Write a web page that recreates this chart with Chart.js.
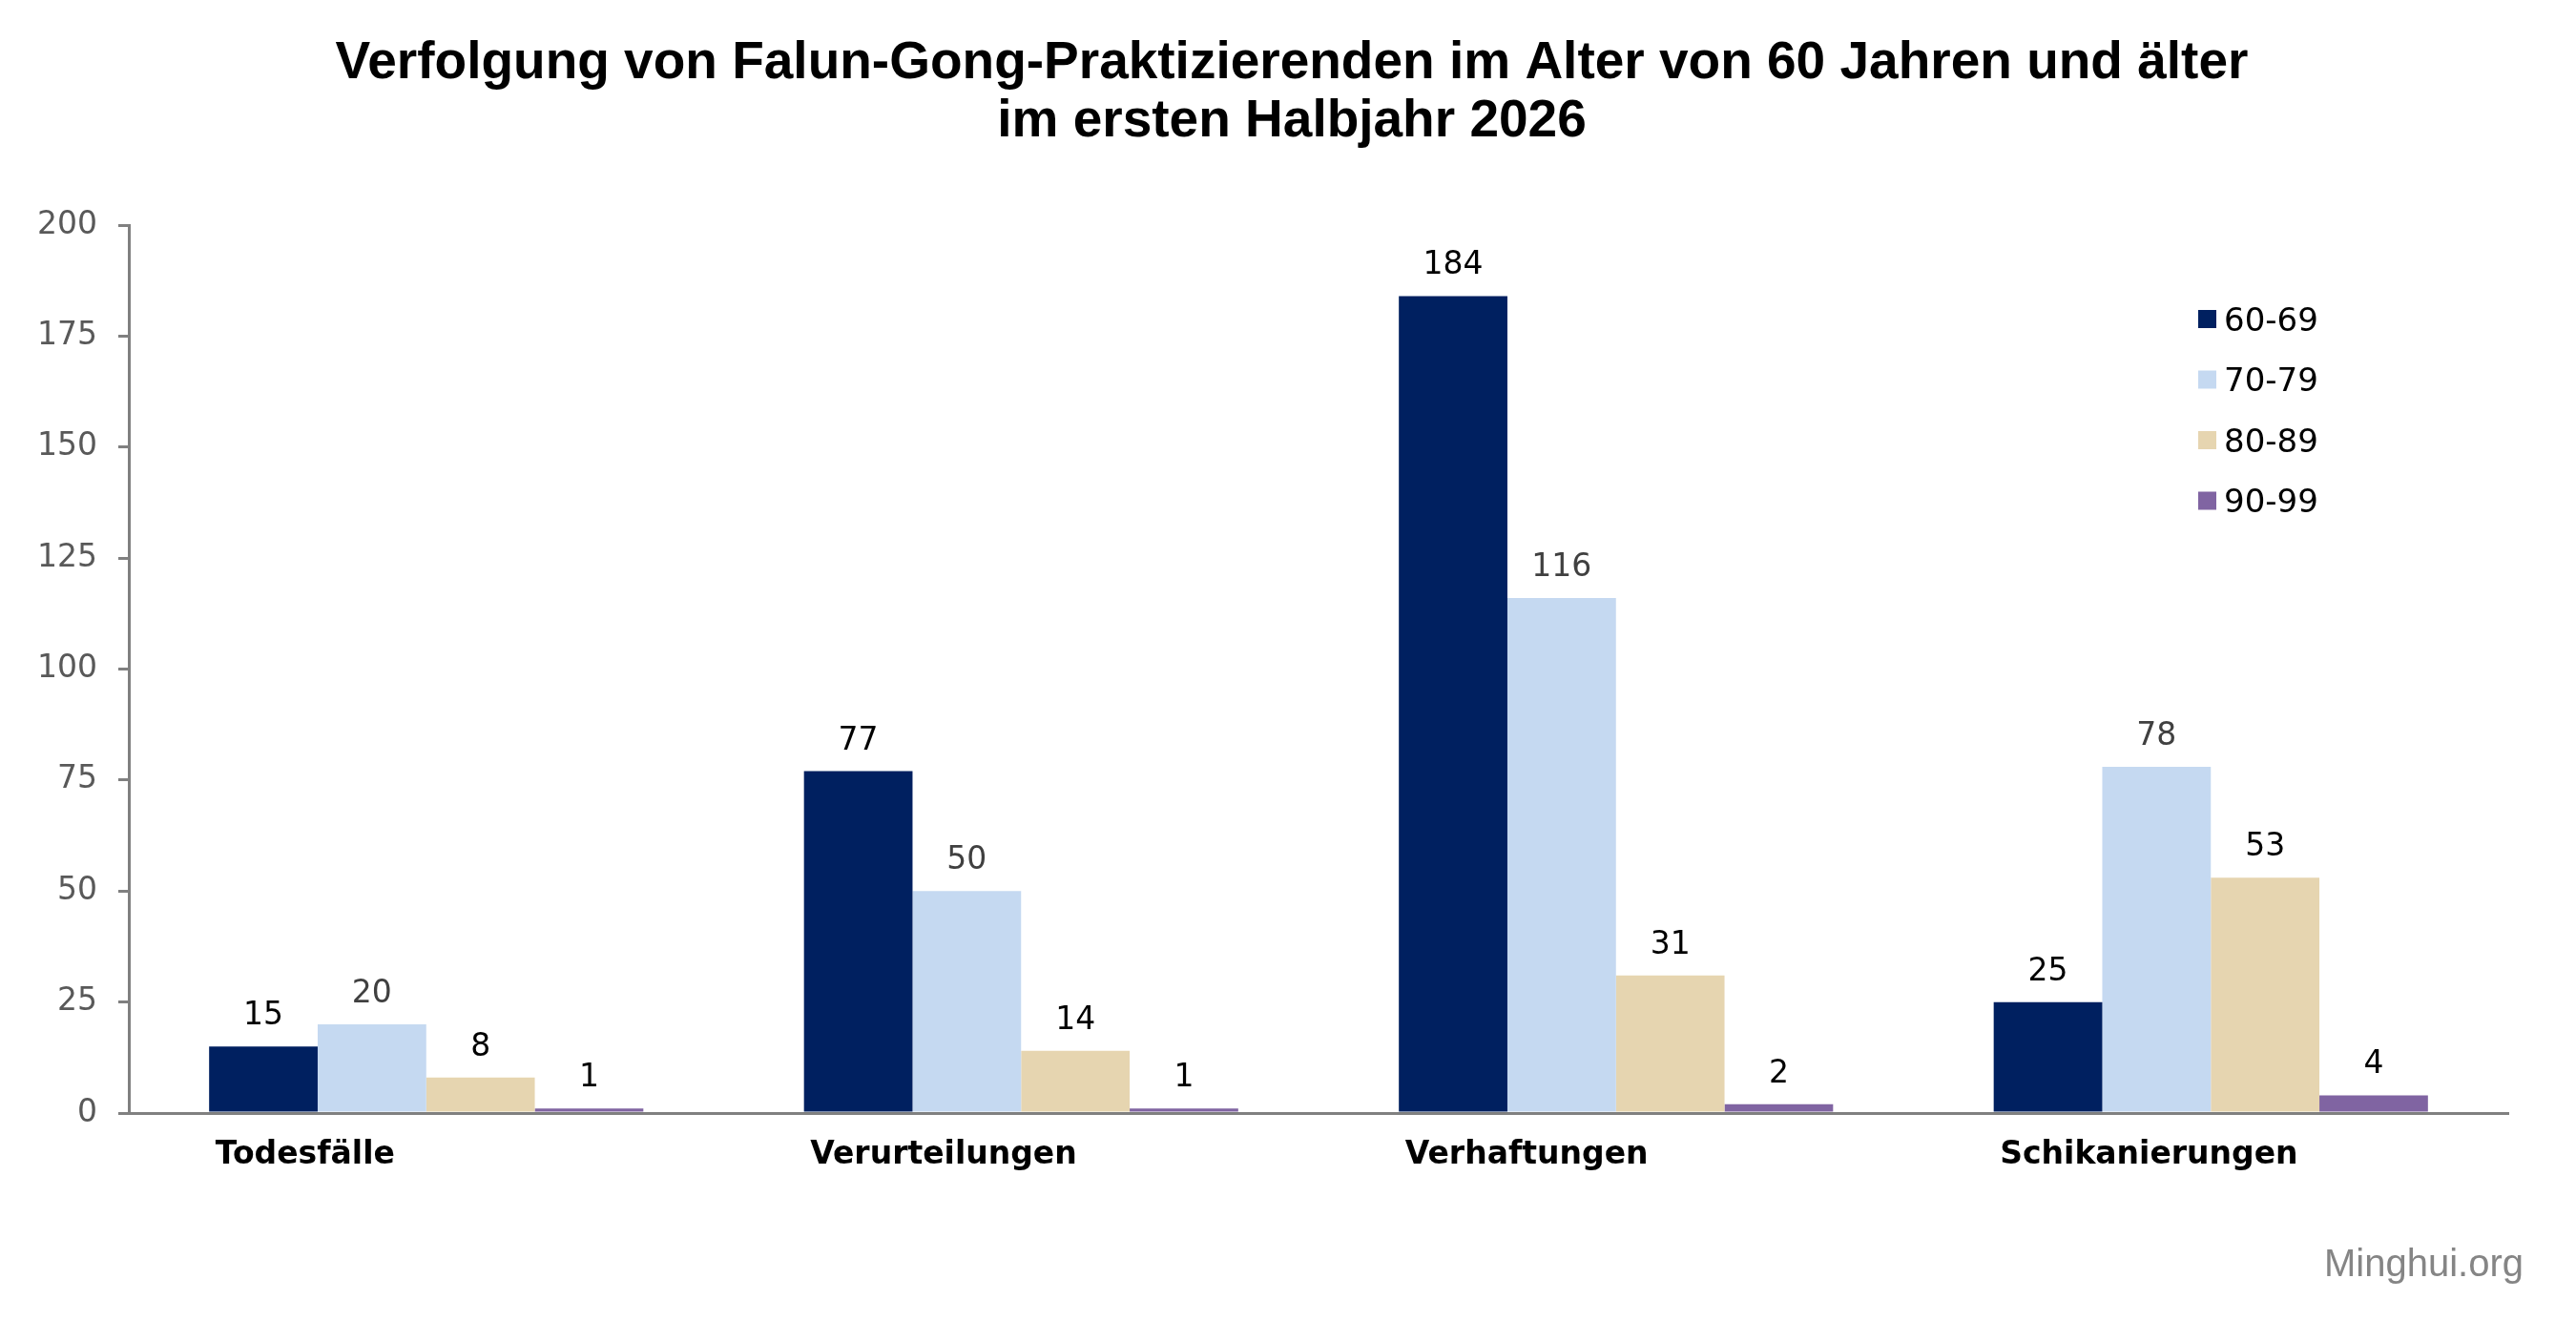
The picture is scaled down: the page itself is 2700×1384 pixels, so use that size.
<!DOCTYPE html>
<html lang="de">
<head>
<meta charset="utf-8">
<title>Verfolgung von Falun-Gong-Praktizierenden im Alter von 60 Jahren und älter</title>
<script src="https://cdn.jsdelivr.net/npm/chart.js@4.4.1/dist/chart.umd.min.js"></script>
<style>
  html, body { margin: 0; padding: 0; background: #fff; }
  #wrap { width: 2700px; height: 1384px; }
</style>
</head>
<body>
<div id="wrap"><canvas id="chart" width="2700" height="1384"></canvas></div>
<script>
// chart data
const categories = ['Todesfälle', 'Verurteilungen', 'Verhaftungen', 'Schikanierungen'];
const ageGroups = ['60-69', '70-79', '80-89', '90-99'];
const age60to69 = [15, 77, 184, 25];
const age70to79 = [20, 50, 116, 78];
const age80to89 = [8, 14, 31, 53];
const age90to99 = [1, 1, 2, 4];
const titleLines = [
  'Verfolgung von Falun-Gong-Praktizierenden im Alter von 60 Jahren und älter',
  'im ersten Halbjahr 2026'
];
const sourceNote = 'Minghui.org';

// styles
const barColors = ['#002060', '#C5D9F1', '#E6D5B0', '#8064A2'];
const valueColors = ['#000000', '#404040', '#000000', '#000000'];
const axisGray = '#808080';
const SANS = "'DejaVu Sans', Verdana, sans-serif";
const ARIAL = "'Liberation Sans', Arial, sans-serif";

const seriesValues = [age60to69, age70to79, age80to89, age90to99];

// two-line heading, centred a little right of the canvas middle like the original
const heading = {
  id: 'heading',
  afterDraw(chart) {
    const ctx = chart.ctx;
    ctx.save();
    ctx.font = 'bold 55px ' + ARIAL;
    ctx.fillStyle = '#000';
    ctx.textAlign = 'center';
    ctx.textBaseline = 'alphabetic';
    titleLines.forEach((line, i) => ctx.fillText(line, 1354, 82 + i * 61));
    ctx.restore();
  }
};

// numbers above every bar
const valueLabels = {
  id: 'valueLabels',
  afterDatasetsDraw(chart) {
    const ctx = chart.ctx;
    ctx.save();
    ctx.font = '33px ' + SANS;
    ctx.textAlign = 'center';
    ctx.textBaseline = 'alphabetic';
    chart.data.datasets.forEach((ds, i) => {
      ctx.fillStyle = valueColors[i];
      chart.getDatasetMeta(i).data.forEach((bar, j) => {
        ctx.fillText(String(ds.data[j]), bar.x, bar.y - 23);
      });
    });
    ctx.restore();
  }
};

// vertical legend in the upper right corner
const sideLegend = {
  id: 'sideLegend',
  afterDraw(chart) {
    const ctx = chart.ctx;
    ctx.save();
    ctx.font = '34px ' + SANS;
    ctx.textAlign = 'left';
    ctx.textBaseline = 'alphabetic';
    chart.data.datasets.forEach((ds, i) => {
      const cy = 334.5 + i * 63.5;
      ctx.fillStyle = ds.backgroundColor;
      ctx.fillRect(2304, cy - 9.5, 19, 19);
      ctx.fillStyle = '#000';
      ctx.fillText(ds.label, 2331, cy + 12);
    });
    ctx.restore();
  }
};

// source note bottom right
const sourceMark = {
  id: 'sourceMark',
  afterDraw(chart) {
    const ctx = chart.ctx;
    ctx.save();
    ctx.font = '40px ' + ARIAL;
    ctx.fillStyle = '#858585';
    ctx.textAlign = 'right';
    ctx.textBaseline = 'alphabetic';
    ctx.fillText(sourceNote, 2645, 1338);
    ctx.restore();
  }
};

new Chart(document.getElementById('chart'), {
  type: 'bar',
  data: {
    labels: categories,
    datasets: ageGroups.map((g, i) => ({
      label: g,
      data: seriesValues[i],
      backgroundColor: barColors[i],
      borderWidth: 0,
      barPercentage: 1.0,
      categoryPercentage: 0.73
    }))
  },
  options: {
    responsive: false,
    devicePixelRatio: 1,
    animation: false,
    layout: { padding: { left: 0, right: 71, top: 236, bottom: 0 } },
    plugins: {
      legend: { display: false },
      tooltip: { enabled: false },
      title: { display: false }
    },
    scales: {
      x: {
        grid: { display: false, drawTicks: false },
        border: { display: true, color: axisGray, width: 3 },
        ticks: {
          align: 'start',
          labelOffset: -221,
          padding: 25,
          color: '#000',
          font: { family: SANS, size: 33, weight: 'bold' }
        },
        afterFit(scale) { scale.height = 217; }
      },
      y: {
        min: 0,
        max: 200,
        grid: {
          display: true,
          drawOnChartArea: false,
          drawTicks: true,
          tickLength: 11,
          color: axisGray,
          lineWidth: 3
        },
        border: { display: true, color: axisGray, width: 3 },
        ticks: {
          stepSize: 25,
          padding: 22,
          color: '#595959',
          font: { family: SANS, size: 33 }
        },
        afterFit(scale) { scale.width = 135; }
      }
    }
  },
  plugins: [heading, valueLabels, sideLegend, sourceMark]
});
</script>
</body>
</html>
